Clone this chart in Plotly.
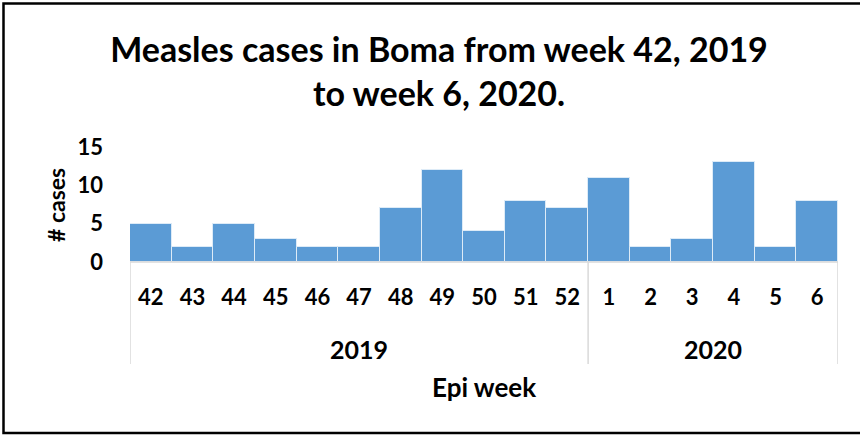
import plotly.graph_objects as go

weeks = ["42", "43", "44", "45", "46", "47", "48", "49", "50", "51", "52", "1", "2", "3", "4", "5", "6"]
years = ["2019"] * 11 + ["2020"] * 6
cases = [5, 2, 5, 3, 2, 2, 7, 12, 4, 8, 7, 11, 2, 3, 13, 2, 8]
yticks = [0, 5, 10, 15]

W, H = 860, 435
L, R, T, B = 130, 22, 147, 173
pw, ph = W - L - R, H - T - B

def px_x(p):
    return (p - L) / pw

def px_y(p):
    return (H - B - p) / ph

FONT = "Lato"
idx = list(range(len(weeks)))

fig = go.Figure(go.Bar(
    x=idx, y=cases, width=1.0,
    marker=dict(color="#5B9BD5", line=dict(color="#DDEBF7", width=1)),
    hoverinfo="y",
))

shapes = []
annotations = []
groups = []
for i, yr in enumerate(years):
    if not groups or groups[-1][0] != yr:
        groups.append([yr, i, i])
    else:
        groups[-1][2] = i
for yr, a, b in groups:
    annotations.append(dict(x=(a + b) / 2, y=px_y(349), xref="x", yref="paper",
                            text=f"<b>{yr}</b>", showarrow=False, yanchor="middle",
                            font=dict(family=FONT, size=25, color="black")))
bounds = [groups[0][1] - 0.5] + [g[2] + 0.5 for g in groups]
for bx in bounds:
    shapes.append(dict(type="line", xref="x", yref="paper", x0=bx, x1=bx,
                       y0=0, y1=px_y(364), line=dict(color="#D9D9D9", width=1.5)))
shapes.append(dict(type="line", xref="paper", yref="paper", x0=0, x1=1, y0=0, y1=0,
                   line=dict(color="#D9D9D9", width=1.5)))
shapes.append(dict(type="rect", xref="paper", yref="paper",
                   x0=px_x(3.5), x1=px_x(880), y0=px_y(433), y1=px_y(3.5),
                   line=dict(color="black", width=2.5), layer="below"))

annotations.append(dict(x=0.5, y=px_y(387), xref="paper", yref="paper",
                        text="<b>Epi week</b>", showarrow=False, yanchor="middle",
                        font=dict(family=FONT, size=26, color="black")))
annotations.append(dict(x=px_x(56), y=px_y(205), xref="paper", yref="paper",
                        text="<b># cases</b>", showarrow=False, textangle=-90,
                        xanchor="center", yanchor="middle",
                        font=dict(family=FONT, size=23, color="black")))

fig.update_layout(
    width=W, height=H,
    margin=dict(l=L, r=R, t=T, b=B),
    paper_bgcolor="white", plot_bgcolor="white",
    title=dict(text="<b>Measles cases in Boma from week 42, 2019<br>to week 6, 2020.</b>",
               xref="container", yref="container",
               x=439 / W, xanchor="center", y=1 - 62 / H, yanchor="middle",
               font=dict(family=FONT, size=34, color="black")),
    xaxis=dict(tickmode="array", tickvals=idx, ticktext=[f"<b>{w}</b>" for w in weeks],
               range=[-0.5, len(weeks) - 0.5], showgrid=False, zeroline=False,
               showline=False, ticks="", ticklabelstandoff=20,
               tickfont=dict(family=FONT, size=22, color="black")),
    yaxis=dict(range=[0, 15], tickvals=yticks, ticktext=[f"<b>{v}</b>" for v in yticks],
               showgrid=False, zeroline=False, showline=False, ticks="",
               ticklabelstandoff=26,
               tickfont=dict(family=FONT, size=22, color="black")),
    shapes=shapes, annotations=annotations, showlegend=False, bargap=0,
)

fig.write_html("out.html", config={"displayModeBar": False},
               post_script="document.body.style.margin='0';")
